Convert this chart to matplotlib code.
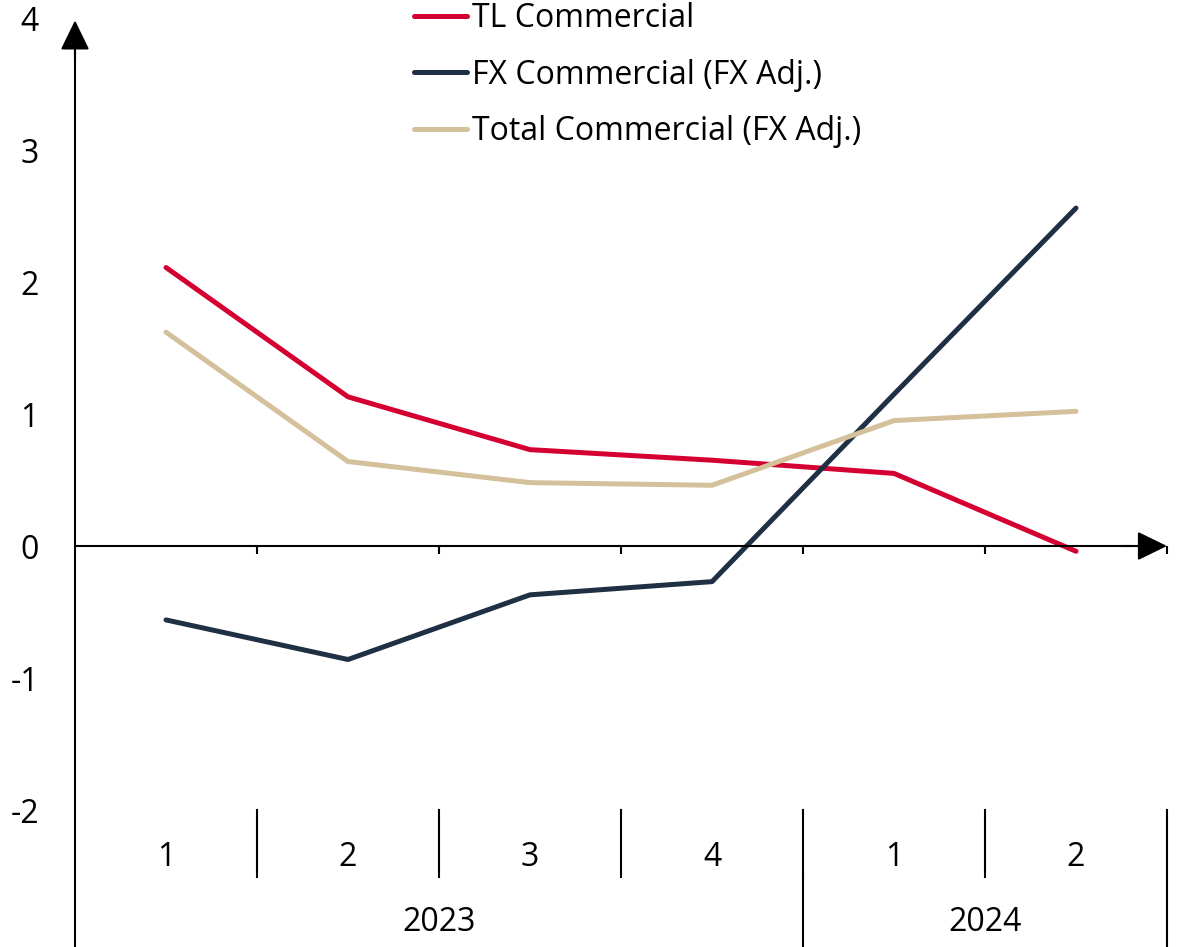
import matplotlib.pyplot as plt

plt.rcParams['font.family'] = ['Open Sans', 'DejaVu Sans']
plt.rcParams['axes.unicode_minus'] = False

quarters = ['1', '2', '3', '4', '1', '2']
years = ['2023', '2024']
year_len = [4, 2]

tl_commercial = [2.11, 1.13, 0.73, 0.65, 0.55, -0.04]
fx_commercial = [-0.56, -0.86, -0.37, -0.27, 1.15, 2.56]
total_commercial = [1.62, 0.64, 0.48, 0.46, 0.95, 1.02]

red = '#d50032'
navy = '#1f3044'
beige = '#d4c09a'

fig = plt.figure(figsize=(11.83, 9.47), dpi=100)
ax = fig.add_axes([75 / 1183, 137 / 947, 1092 / 1183, 792 / 947])

x = range(len(quarters))
ax.plot(x, tl_commercial, color=red, lw=3.6, solid_capstyle='round', label='TL Commercial')
ax.plot(x, fx_commercial, color=navy, lw=3.6, solid_capstyle='round', label='FX Commercial (FX Adj.)')
ax.plot(x, total_commercial, color=beige, lw=3.6, solid_capstyle='round', label='Total Commercial (FX Adj.)')

ax.set_xlim(-0.5, len(quarters) - 0.5)
ax.set_ylim(-2, 4)
for s in ax.spines.values():
    s.set_visible(False)
ax.set_xticks([])
ax.set_yticks(range(-2, 5))
ax.tick_params(axis='y', length=0, pad=26, labelsize=23)

# axes with arrows
head = '-|>,head_length=1.85,head_width=0.9'
ax.plot([0, 0], [-0.173, 0.96], color='black', lw=1.5, transform=ax.transAxes, clip_on=False)
ax.annotate('', xy=(0, 0.997), xytext=(0, 0.95), xycoords='axes fraction',
            arrowprops=dict(arrowstyle=head, color='black', lw=1.5, shrinkA=0, shrinkB=0),
            annotation_clip=False)
ax.plot([-0.5, 5.3], [0, 0], color='black', lw=1.5, clip_on=False)
ax.annotate('', xy=(5.5, 0), xytext=(5.25, 0), xycoords='data',
            arrowprops=dict(arrowstyle=head, color='black', lw=1.5, shrinkA=0, shrinkB=0),
            annotation_clip=False)
ax.vlines([i + 0.5 for i in x], -0.06, 0, color='black', lw=1.5, clip_on=False)

# category axis below
for i in range(1, len(quarters) + 1):
    ax.plot([i - 0.5, i - 0.5], [0, -0.0845], color='black', lw=1.5,
            transform=ax.get_xaxis_transform(), clip_on=False)
for i, q in enumerate(quarters):
    ax.text(i, -0.06, q, ha='center', va='center', fontsize=23,
            transform=ax.get_xaxis_transform())
start = 0
for y, n in zip(years, year_len):
    ax.text(start + n / 2 - 0.5, -0.142, y, ha='center', va='center', fontsize=23,
            transform=ax.get_xaxis_transform())
    start += n
    ax.plot([start - 0.5, start - 0.5], [-0.0845, -0.173], color='black', lw=1.5,
            transform=ax.get_xaxis_transform(), clip_on=False)

ax.legend(loc='upper left', bbox_to_anchor=(414 / 1183, 1.0 - 2 / 947), bbox_transform=fig.transFigure,
          frameon=False, fontsize=23, handlelength=1.65, handletextpad=0.15,
          labelspacing=0.74, borderpad=0, borderaxespad=0)

fig.savefig('out.png', dpi=100)
